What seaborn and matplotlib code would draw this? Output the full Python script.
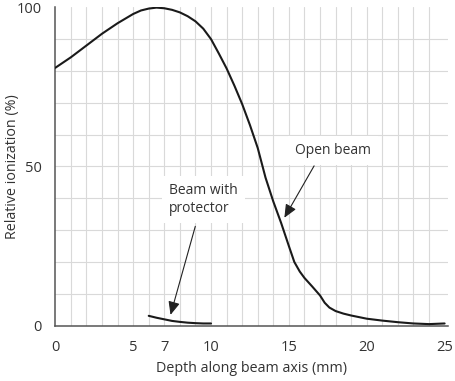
import numpy as np
import pandas as pd
import matplotlib
matplotlib.use("Agg")
import matplotlib.pyplot as plt
import seaborn as sns
from matplotlib.ticker import FixedLocator

# ---- data ----
open_depth = [0, 1, 2, 3, 4, 5, 5.5, 6, 6.5, 7, 7.5, 8, 8.5, 9, 9.5, 10, 10.5, 11,
              11.5, 12, 12.5, 13, 13.5, 14, 14.5, 15, 15.35, 15.7, 16, 16.5, 17,
              17.3, 17.6, 18, 18.5, 19, 20, 21, 22, 23, 24, 25]
open_ion = [81.0, 84.3, 88.0, 91.7, 95.0, 97.9, 99.0, 99.6, 99.9, 99.7, 99.2, 98.4,
            97.2, 95.6, 93.3, 90.0, 85.5, 80.8, 75.4, 69.6, 63.0, 55.8, 46.5, 39.0,
            32.3, 25.0, 20.0, 17.0, 15.0, 12.3, 9.5, 7.2, 5.7, 4.6, 3.8, 3.2, 2.2,
            1.6, 1.1, 0.7, 0.5, 0.7]
prot_depth = [6, 6.5, 7, 7.5, 8, 8.5, 9, 9.5, 10]
prot_ion = [3.1, 2.5, 2.0, 1.5, 1.2, 0.95, 0.8, 0.7, 0.7]

x_ticks = [0, 5, 7, 10, 15, 20, 25]
y_ticks = [0, 50, 100]
x_label = "Depth along beam axis (mm)"
y_label = "Relative ionization (%)"
open_label = "Open beam"
prot_label = "Beam with\nprotector"
open_arrow_tail, open_arrow_tip = (16.62, 50.2), (14.71, 33.9)
prot_arrow_tail, prot_arrow_tip = (8.99, 31.2), (7.40, 3.4)
open_text_pos = (17.83, 55.1)
prot_text_pos = (7.29, 39.7)

sns.set_style("white")
plt.rcParams['font.family'] = ['Open Sans', 'DejaVu Sans']
TXT = "#333333"
AXC = "#555555"
FS = 10
FS_LAB = 10.3
FS_TICK = 10.5

fig = plt.figure(figsize=(4.56, 3.81), dpi=100)
ax = fig.add_axes([55.3 / 456, (381 - 325.7) / 381, (448.5 - 55.3) / 456, (325.7 - 7.3) / 381])

df_open = pd.DataFrame({"depth": open_depth, "ion": open_ion})
df_prot = pd.DataFrame({"depth": prot_depth, "ion": prot_ion})
sns.lineplot(data=df_open, x="depth", y="ion", ax=ax, color="#1a1a1a", lw=1.5, zorder=3)
sns.lineplot(data=df_prot, x="depth", y="ion", ax=ax, color="#1a1a1a", lw=1.5, zorder=3)

ax.set_xlim(0, 25.25)
ax.set_ylim(0, 100)
ax.set_xticks(x_ticks)
ax.set_yticks(y_ticks)
ax.xaxis.remove_overlapping_locs = False
ax.yaxis.remove_overlapping_locs = False
ax.xaxis.set_minor_locator(FixedLocator(list(range(1, 25))))
ax.yaxis.set_minor_locator(FixedLocator(list(range(10, 100, 10))))
ax.grid(False)
ax.grid(which="minor", color="#d9d9d9", lw=0.8)
ax.set_axisbelow(True)
ax.tick_params(which="minor", length=0)
ax.tick_params(which="major", direction="out", length=6, width=1, color=AXC,
               labelsize=FS_TICK, labelcolor=TXT)
ax.tick_params(axis="x", which="major", pad=4.5)
ax.tick_params(axis="y", which="major", pad=3.5)
for s in ["top", "right"]:
    ax.spines[s].set_visible(False)
for s in ["left", "bottom"]:
    ax.spines[s].set_color(AXC)
    ax.spines[s].set_linewidth(1.1)

ax.set_xlabel(x_label, fontsize=FS_LAB, color=TXT, va="center")
ax.set_ylabel(y_label, fontsize=FS_LAB, color=TXT, va="center")
ax.xaxis.set_label_coords(0.5, (325.7 - 368) / 318.4)
ax.yaxis.set_label_coords((13 - 55.3) / 393.2, 0.5)

bbox = dict(boxstyle="square,pad=0.5", fc="white", ec="none")
ax.text(*open_text_pos, open_label, ha="center", va="center", fontsize=FS,
        color=TXT, bbox=bbox, zorder=2)
ax.text(*prot_text_pos, prot_label, ha="left", va="center", fontsize=FS,
        color=TXT, bbox=bbox, linespacing=1.3, zorder=2)

arrow = dict(arrowstyle="-|>,head_length=0.8,head_width=0.35", color="#222222",
             lw=0.8, shrinkA=0, shrinkB=0, mutation_scale=10)
ax.annotate("", xy=open_arrow_tip, xytext=open_arrow_tail, arrowprops=arrow, zorder=4)
ax.annotate("", xy=prot_arrow_tip, xytext=prot_arrow_tail, arrowprops=arrow, zorder=4)

fig.savefig("out.png", dpi=100)
